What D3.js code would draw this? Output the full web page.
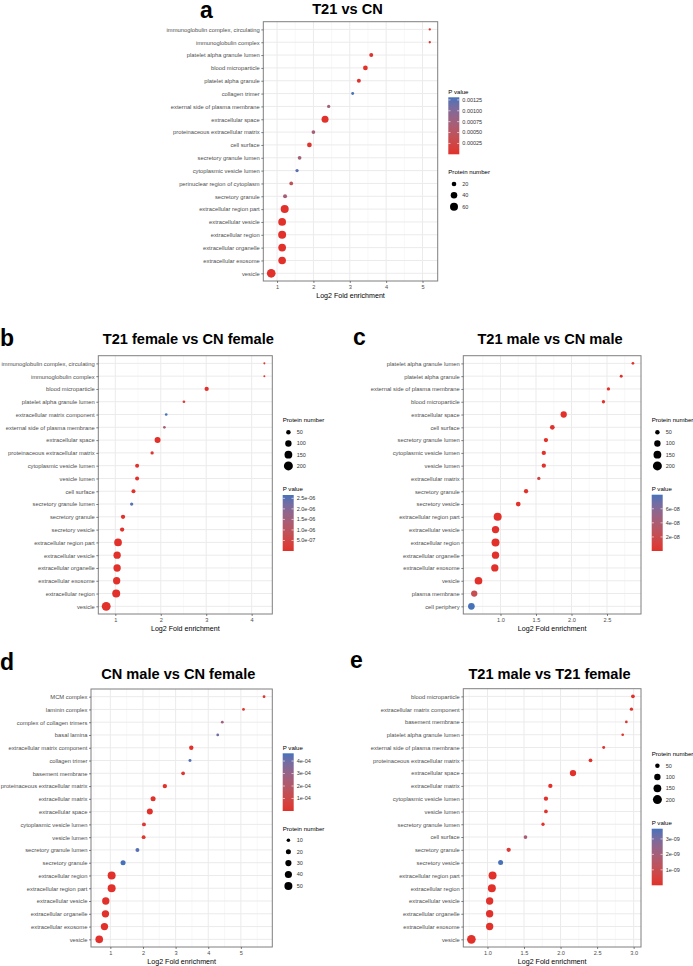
<!DOCTYPE html>
<html><head><meta charset="utf-8">
<script src="https://cdn.jsdelivr.net/npm/d3@7"></script>
<style>
body{margin:0;background:#fff;}
svg{display:block;font-family:"Liberation Sans",Arial,Helvetica,sans-serif;}
</style></head><body>
<svg id="chart" width="693" height="966"></svg>
<script>
// ---------------- DATA ----------------
// Panel a: T21 vs CN
const aTerms = ["immunoglobulin complex, circulating","immunoglobulin complex","platelet alpha granule lumen","blood microparticle","platelet alpha granule","collagen trimer","external side of plasma membrane","extracellular space","proteinaceous extracellular matrix","cell surface","secretory granule lumen","cytoplasmic vesicle lumen","perinuclear region of cytoplasm","secretory granule","extracellular region part","extracellular vesicle","extracellular region","extracellular organelle","extracellular exosome","vesicle"];
const aFold = [5.20,5.20,3.59,3.43,3.25,3.08,2.42,2.32,2.00,1.89,1.62,1.55,1.39,1.22,1.21,1.14,1.14,1.14,1.14,0.84];
const aCount = [5,5,15,21,15,8,10,46,13,21,13,10,13,15,60,56,60,56,55,71];
const aP = [2e-5,2e-5,1e-5,1e-6,3e-5,0.00131,0.00075,1e-12,0.0007,3e-5,0.00072,0.00124,0.00042,0.0007,1e-12,1e-12,1e-12,1e-12,1e-12,1e-12];
const aXTicks = [1,2,3,4,5];
const aSizeBreaks = [20,40,60];
const aPBreaks = [0.00025,0.0005,0.00075,0.001,0.00125];
const aPLabels = ["0.00025","0.00050","0.00075","0.00100","0.00125"];

// Panel b: T21 female vs CN female
const bTerms = ["immunoglobulin complex, circulating","immunoglobulin complex","blood microparticle","platelet alpha granule lumen","extracellular matrix component","external side of plasma membrane","extracellular space","proteinaceous extracellular matrix","cytoplasmic vesicle lumen","vesicle lumen","cell surface","secretory granule lumen","secretory granule","secretory vesicle","extracellular region part","extracellular vesicle","extracellular organelle","extracellular exosome","extracellular region","vesicle"];
const bFold = [4.28,4.28,3.01,2.51,2.12,2.08,1.93,1.81,1.48,1.48,1.40,1.36,1.17,1.15,1.06,1.04,1.04,1.03,1.02,0.80];
const bCount = [10,10,46,18,18,18,89,27,40,40,40,27,46,46,146,133,133,132,158,195];
const bP = [1e-7,1e-7,1e-9,2e-7,2.66e-6,1.3e-6,1e-14,1e-7,1e-9,1e-9,5e-9,2.5e-6,1e-9,1e-9,1e-15,1e-15,1e-15,1e-15,1e-15,1e-15];
const bXTicks = [1,2,3,4];
const bSizeBreaks = [50,100,150,200];
const bPBreaks = [5e-7,1e-6,1.5e-6,2e-6,2.5e-6];
const bPLabels = ["5.0e-07","1.0e-06","1.5e-06","2.0e-06","2.5e-06"];

// Panel c: T21 male vs CN male
const cTerms = ["platelet alpha granule lumen","platelet alpha granule","external side of plasma membrane","blood microparticle","extracellular space","cell surface","secretory granule lumen","cytoplasmic vesicle lumen","vesicle lumen","extracellular matrix","secretory granule","secretory vesicle","extracellular region part","extracellular vesicle","extracellular region","extracellular organelle","extracellular exosome","vesicle","plasma membrane","cell periphery"];
const cFold = [2.865,2.70,2.52,2.45,1.89,1.73,1.64,1.61,1.61,1.54,1.36,1.25,0.96,0.93,0.93,0.93,0.92,0.69,0.63,0.59];
const cCount = [18,22,27,27,98,55,46,46,46,27,46,55,158,133,158,133,132,146,98,110];
const cP = [1e-10,1e-10,1e-10,1e-10,1e-20,1e-12,1e-12,1e-12,1e-12,1.2e-8,1e-12,1e-12,1e-20,1e-20,1e-20,1e-20,1e-20,1e-15,2.2e-8,8e-8];
const cXTicks = [1.0,1.5,2.0,2.5];
const cSizeBreaks = [50,100,150,200];
const cPBreaks = [2e-8,4e-8,6e-8];
const cPLabels = ["2e-08","4e-08","6e-08"];

// Panel d: CN male vs CN female
const dTerms = ["MCM complex","laminin complex","complex of collagen trimers","basal lamina","extracellular matrix component","collagen trimer","basement membrane","proteinaceous extracellular matrix","extracellular matrix","extracellular space","cytoplasmic vesicle lumen","vesicle lumen","secretory granule lumen","secretory granule","extracellular region","extracellular region part","extracellular vesicle","extracellular organelle","extracellular exosome","vesicle"];
const dFold = [5.71,5.08,4.43,4.29,3.48,3.44,3.23,2.67,2.31,2.21,2.03,2.02,1.83,1.39,1.04,1.04,0.86,0.85,0.82,0.66];
const dCount = [6,6,6,6,15,7,11,15,20,28,12,12,12,20,50,50,42,42,42,46];
const dP = [1.5e-5,1.5e-5,2.7e-4,3.9e-4,1e-7,4.5e-4,2e-5,1e-7,1e-9,1e-8,2e-5,2e-5,4.4e-4,4.62e-4,1e-12,1e-12,1e-12,1e-12,1e-12,1e-12];
const dXTicks = [1,2,3,4,5];
const dSizeBreaks = [10,20,30,40,50];
const dPBreaks = [1e-4,2e-4,3e-4,4e-4];
const dPLabels = ["1e-04","2e-04","3e-04","4e-04"];

// Panel e: T21 male vs T21 female
const eTerms = ["blood microparticle","extracellular matrix component","basement membrane","platelet alpha granule lumen","external side of plasma membrane","proteinaceous extracellular matrix","extracellular space","extracellular matrix","cytoplasmic vesicle lumen","vesicle lumen","secretory granule lumen","cell surface","secretory granule","secretory vesicle","extracellular region part","extracellular region","extracellular vesicle","extracellular organelle","extracellular exosome","vesicle"];
const eFold = [2.99,2.97,2.90,2.85,2.59,2.41,2.17,1.86,1.80,1.80,1.76,1.52,1.29,1.18,1.07,1.06,1.03,1.03,1.03,0.78];
const eCount = [34,27,18,18,22,34,98,46,46,34,27,34,46,62,158,158,133,133,133,187];
const eP = [1e-12,1e-11,1e-10,1e-10,1e-10,1e-12,1e-20,1e-13,1e-13,1e-12,1e-11,1.9e-9,3e-10,3.66e-9,1e-25,1e-25,1e-25,1e-25,1e-25,1e-25];
const eXTicks = [1.0,1.5,2.0,2.5,3.0];
const eSizeBreaks = [50,100,150,200];
const ePBreaks = [1e-9,2e-9,3e-9];
const ePLabels = ["1e-09","2e-09","3e-09"];

// ---------------- STYLE / LAYOUT ----------------
const LOW = "#E2302A", HIGH = "#4672BA";
const svg = d3.select("#chart");

const panels = [
  {letter:"a", title:"T21 vs CN", terms:aTerms, fold:aFold, count:aCount, p:aP, xTicks:aXTicks, fmt:d3.format("d"),
   sizeBreaks:aSizeBreaks, sizeRef:60, rRef:4.0, pBreaks:aPBreaks, pLabels:aPLabels,
   box:{l:263.3,r:437.7,t:21.7,b:281}, titleX:347.5, titleY:13.6, letterX:200, letterY:18,
   legX:448.3, barTop:97.3, barBot:154.3, sizeTitleY:172.3, sizeY0:184, sizeStep:11.35},
  {letter:"b", title:"T21 female vs CN female", terms:bTerms, fold:bFold, count:bCount, p:bP, xTicks:bXTicks, fmt:d3.format("d"),
   sizeBreaks:bSizeBreaks, sizeRef:200, rRef:4.5, pBreaks:bPBreaks, pLabels:bPLabels,
   box:{l:98.3,r:272.3,t:355.7,b:614}, titleX:188.3, titleY:343.6, letterX:0, letterY:346,
   legX:282.7, barTop:495, barBot:551, sizeTitleY:420, sizeY0:432.3, sizeStep:11.2},
  {letter:"c", title:"T21 male vs CN male", terms:cTerms, fold:cFold, count:cCount, p:cP, xTicks:cXTicks, fmt:d3.format(".1f"),
   sizeBreaks:cSizeBreaks, sizeRef:200, rRef:4.5, pBreaks:cPBreaks, pLabels:cPLabels,
   box:{l:463.3,r:641,t:355.7,b:614}, titleX:550, titleY:343.6, letterX:353, letterY:345,
   legX:651.7, barTop:494.7, barBot:551, sizeTitleY:420, sizeY0:432.3, sizeStep:11.2},
  {letter:"d", title:"CN male vs CN female", terms:dTerms, fold:dFold, count:dCount, p:dP, xTicks:dXTicks, fmt:d3.format("d"),
   sizeBreaks:dSizeBreaks, sizeRef:50, rRef:4.0, pBreaks:dPBreaks, pLabels:dPLabels,
   box:{l:91,r:272.3,t:689,b:947}, titleX:178.3, titleY:678.6, letterX:0, letterY:670,
   legX:282.7, barTop:753.3, barBot:811, sizeTitleY:829, sizeY0:840.3, sizeStep:11.4},
  {letter:"e", title:"T21 male vs T21 female", terms:eTerms, fold:eFold, count:eCount, p:eP, xTicks:eXTicks, fmt:d3.format(".1f"),
   sizeBreaks:eSizeBreaks, sizeRef:200, rRef:4.5, pBreaks:ePBreaks, pLabels:ePLabels,
   box:{l:463.3,r:641,t:688.7,b:947}, titleX:549.5, titleY:679.2, letterX:350, letterY:668,
   legX:651.7, barTop:828.7, barBot:885.3, sizeTitleY:753.7, sizeY0:765.7, sizeStep:11.3}
];

const defs = svg.append("defs");

function drawPanel(cfg, idx){
  const g = svg.append("g");
  const {l,r,t,b} = cfg.box;
  const ext = d3.extent(cfg.fold), pad = (ext[1]-ext[0])*0.05;
  const x = d3.scaleLinear().domain([ext[0]-pad, ext[1]+pad]).range([l,r]);
  const y = d3.scalePoint().domain(cfg.terms).range([t,b]).padding(0.6);
  const pExt = d3.extent(cfg.p);
  const color = d3.scaleLinear().domain(pExt).range([LOW,HIGH]).interpolate(d3.interpolateLab);
  const size = d3.scaleSqrt().domain([0,cfg.sizeRef]).range([0,cfg.rRef]);

  g.append("rect").attr("x",l).attr("y",t).attr("width",r-l).attr("height",b-t).attr("fill","#fff");

  // minor grid
  const step = cfg.xTicks[1]-cfg.xTicks[0];
  const dom = x.domain();
  const minor = [];
  for(let v = cfg.xTicks[0]-step/2; v <= cfg.xTicks[cfg.xTicks.length-1]+step/2+1e-9; v += step){
    if(v>dom[0] && v<dom[1]) minor.push(v);
  }
  g.selectAll(".mn").data(minor).enter().append("line")
    .attr("x1",d=>x(d)).attr("x2",d=>x(d)).attr("y1",t).attr("y2",b)
    .attr("stroke","#f3f3f3").attr("stroke-width",0.6);
  // major grid
  g.selectAll(".mjx").data(cfg.xTicks).enter().append("line")
    .attr("x1",d=>x(d)).attr("x2",d=>x(d)).attr("y1",t).attr("y2",b)
    .attr("stroke","#ebebeb").attr("stroke-width",1);
  g.selectAll(".mjy").data(cfg.terms).enter().append("line")
    .attr("x1",l).attr("x2",r).attr("y1",d=>y(d)).attr("y2",d=>y(d))
    .attr("stroke","#ebebeb").attr("stroke-width",1);

  // points
  const rows = cfg.terms.map((term,i)=>({term, f:cfg.fold[i], n:cfg.count[i], p:cfg.p[i]}));
  g.selectAll(".pt").data(rows).enter().append("circle")
    .attr("cx",d=>x(d.f)).attr("cy",d=>y(d.term)).attr("r",d=>size(d.n))
    .attr("fill",d=>color(d.p));

  // border
  g.append("rect").attr("x",l).attr("y",t).attr("width",r-l).attr("height",b-t)
    .attr("fill","none").attr("stroke","#7f7f7f").attr("stroke-width",1);

  // axes
  const ya = g.append("g").attr("transform",`translate(${l},0)`)
    .call(d3.axisLeft(y).tickSize(2).tickPadding(1.6));
  ya.select(".domain").remove();
  ya.selectAll("line").attr("stroke","#333").attr("stroke-width",0.6);
  ya.selectAll("text").attr("font-size",5.8).attr("fill","#4d4d4d").attr("font-family",null);

  const xa = g.append("g").attr("transform",`translate(0,${b})`)
    .call(d3.axisBottom(x).tickValues(cfg.xTicks).tickFormat(cfg.fmt).tickSize(2).tickPadding(1.6));
  xa.select(".domain").remove();
  xa.selectAll("line").attr("stroke","#333").attr("stroke-width",0.6);
  xa.selectAll("text").attr("font-size",5.6).attr("fill","#4d4d4d").attr("font-family",null);

  g.append("text").attr("x",(l+r)/2).attr("y",b+16.5).attr("text-anchor","middle")
    .attr("font-size",7.1).attr("fill","#000").text("Log2 Fold enrichment");

  // title & letter
  g.append("text").attr("x",cfg.titleX).attr("y",cfg.titleY).attr("text-anchor","middle")
    .attr("font-size",14.6).attr("font-weight","bold").attr("fill","#000").text(cfg.title);
  g.append("text").attr("x",cfg.letterX).attr("y",cfg.letterY)
    .attr("font-size",23).attr("font-weight","bold").attr("fill","#000").text(cfg.letter);

  // colour legend
  const lx = cfg.legX, bw = 11;
  const gid = "grad"+idx;
  const grad = defs.append("linearGradient").attr("id",gid).attr("x1",0).attr("y1",1).attr("x2",0).attr("y2",0);
  d3.range(0,1.0001,0.05).forEach(s=>{
    grad.append("stop").attr("offset",s).attr("stop-color",color(pExt[0]+s*(pExt[1]-pExt[0])));
  });
  g.append("text").attr("x",lx).attr("y",cfg.barTop-5.7).attr("dy","0.35em")
    .attr("font-size",6.1).attr("fill","#000").text("P value");
  g.append("rect").attr("x",lx).attr("y",cfg.barTop).attr("width",bw).attr("height",cfg.barBot-cfg.barTop)
    .attr("fill",`url(#${gid})`);
  const pb = d3.scaleLinear().domain(pExt).range([cfg.barBot,cfg.barTop]);
  cfg.pBreaks.forEach((v,i)=>{
    const yy = pb(v);
    g.append("line").attr("x1",lx).attr("x2",lx+2.2).attr("y1",yy).attr("y2",yy).attr("stroke","#fff").attr("stroke-width",0.6);
    g.append("line").attr("x1",lx+bw-2.2).attr("x2",lx+bw).attr("y1",yy).attr("y2",yy).attr("stroke","#fff").attr("stroke-width",0.6);
    g.append("text").attr("x",lx+14).attr("y",yy).attr("dy","0.35em")
      .attr("font-size",5.5).attr("fill","#333").text(cfg.pLabels[i]);
  });

  // size legend
  g.append("text").attr("x",lx).attr("y",cfg.sizeTitleY).attr("dy","0.35em")
    .attr("font-size",6.1).attr("fill","#000").text("Protein number");
  cfg.sizeBreaks.forEach((v,i)=>{
    const yy = cfg.sizeY0 + i*cfg.sizeStep;
    g.append("circle").attr("cx",lx+5.7).attr("cy",yy).attr("r",size(v)).attr("fill","#000");
    g.append("text").attr("x",lx+14).attr("y",yy).attr("dy","0.35em")
      .attr("font-size",5.5).attr("fill","#333").text(v);
  });
}

panels.forEach(drawPanel);
</script>
</body></html>
